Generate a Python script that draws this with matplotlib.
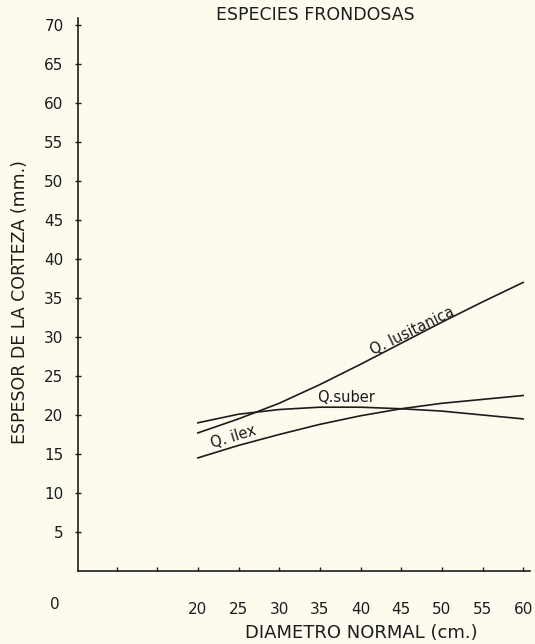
import matplotlib.pyplot as plt

diametro = [20, 25, 30, 35, 40, 45, 50, 55, 60]
lusitanica = [17.7, 19.5, 21.5, 23.9, 26.5, 29.2, 31.9, 34.5, 37.0]
suber = [19.0, 20.1, 20.7, 21.0, 21.0, 20.8, 20.5, 20.0, 19.5]
ilex = [14.5, 16.1, 17.5, 18.8, 19.9, 20.8, 21.5, 22.0, 22.5]

yticks = list(range(5, 75, 5))
xticks = [10, 15, 20, 25, 30, 35, 40, 45, 50, 55, 60]
xlabels = ['', '', '20', '25', '30', '35', '40', '45', '50', '55', '60']

bg = '#fcfbee'
ink = '#1c1c1c'

fig = plt.figure(figsize=(5.35, 6.44), dpi=100, facecolor=bg)
ax = fig.add_axes([0.146, 0.1134, 0.845, 0.8586], facecolor=bg)

for ys in (lusitanica, suber, ilex):
    ax.plot(diametro, ys, color=ink, lw=1.2)

ax.set_xlim(5.28, 60.86)
ax.set_ylim(0, 70.9)
ax.spines['top'].set_visible(False)
ax.spines['right'].set_visible(False)
for s in ('left', 'bottom'):
    ax.spines[s].set_color(ink)
    ax.spines[s].set_linewidth(1.2)

ax.set_yticks(yticks)
ax.set_xticks(xticks)
ax.set_xticklabels(xlabels)
ax.tick_params(axis='y', direction='inout', length=5, pad=8, labelsize=11,
               colors=ink, width=1)
ax.tick_params(axis='x', direction='in', length=3, pad=22, labelsize=11,
               colors=ink, width=1)

# "0" at the origin corner
ax.text(-0.04, -0.06, '0', transform=ax.transAxes, ha='right', va='center',
        fontsize=11, color=ink)

# curve labels
ax.text(46.4, 30.8, 'Q. lusitanica', rotation=26, ha='center', va='center',
        fontsize=10.5, color=ink)
ax.text(38.2, 22.3, 'Q.suber', ha='center', va='center', fontsize=10.5,
        color=ink)
ax.text(24.4, 17.2, 'Q. ilex', rotation=17, ha='center', va='center',
        fontsize=10.5, color=ink)

fig.text(0.59, 0.976, 'ESPECIES FRONDOSAS', ha='center', va='center',
         fontsize=12.5, color=ink)
fig.text(0.675, 0.017, 'DIAMETRO NORMAL (cm.)', ha='center', va='center',
         fontsize=13, color=ink)
fig.text(0.037, 0.531, 'ESPESOR DE LA CORTEZA (mm.)', rotation=90,
         ha='center', va='center', fontsize=12.5, color=ink)

fig.savefig('out.png', dpi=100, facecolor=bg)
